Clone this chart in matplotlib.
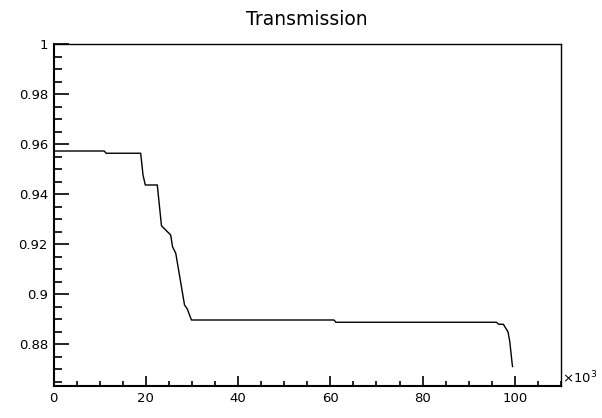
import matplotlib
matplotlib.use("Agg")
import matplotlib.pyplot as plt
from matplotlib.ticker import MultipleLocator

plt.rcParams['font.family'] = ['DejaVu Sans']

# x in units of 10^3
x_vals = [0, 11.0, 11.4, 18.9, 19.4, 19.9, 22.5, 23.4, 25.4, 25.8, 26.5, 28.4,
          29.0, 29.9, 60.8, 61.2, 96.0, 96.5, 97.5, 98.5, 98.9, 99.4, 99.5]
y_vals = [0.9572, 0.9572, 0.9563, 0.9563, 0.9476, 0.9436, 0.9436, 0.9273, 0.9236,
          0.9189, 0.9163, 0.8956, 0.8940, 0.8896, 0.8896, 0.8887, 0.8887, 0.8879,
          0.8879, 0.8849, 0.8810, 0.8723, 0.8710]
x_major = [0, 20, 40, 60, 80, 100]
y_major = [0.88, 0.90, 0.92, 0.94, 0.96, 0.98, 1.0]
y_labels = ["0.88", "0.9", "0.92", "0.94", "0.96", "0.98", "1"]
title = "Transmission"

fig = plt.figure(figsize=(6.02, 4.18), dpi=100)
ax = fig.add_axes([53.5/602, 32/418, (561-53.5)/602, (386-44)/418])
ax.plot(x_vals, y_vals, color='black', lw=1.0)
ax.set_xlim(0, 110)
ax.set_ylim(0.8632, 1.0)

ax.set_xticks(x_major)
ax.set_xticklabels([str(v) for v in x_major])
ax.set_yticks(y_major)
ax.set_yticklabels(y_labels)
ax.xaxis.set_minor_locator(MultipleLocator(5))
ax.yaxis.set_minor_locator(MultipleLocator(0.005))

ax.tick_params(which='both', direction='in', top=False, right=False,
               labelsize=9.5, width=1.2, pad=4)
ax.tick_params(axis='x', which='major', length=7)
ax.tick_params(axis='x', which='minor', length=3.5)
ax.tick_params(axis='y', which='major', length=11)
ax.tick_params(axis='y', which='minor', length=5.5)

for s in ['left', 'bottom']:
    ax.spines[s].set_linewidth(1.5)
for s in ['top', 'right']:
    ax.spines[s].set_linewidth(1.0)

ax.set_title(title, fontsize=13.5, pad=14)
ax.text(1.002, 0.0, r"$\times$10$^{3}$", transform=ax.transAxes,
        ha='left', va='bottom', fontsize=9.5)

fig.savefig("out.png", dpi=100)
